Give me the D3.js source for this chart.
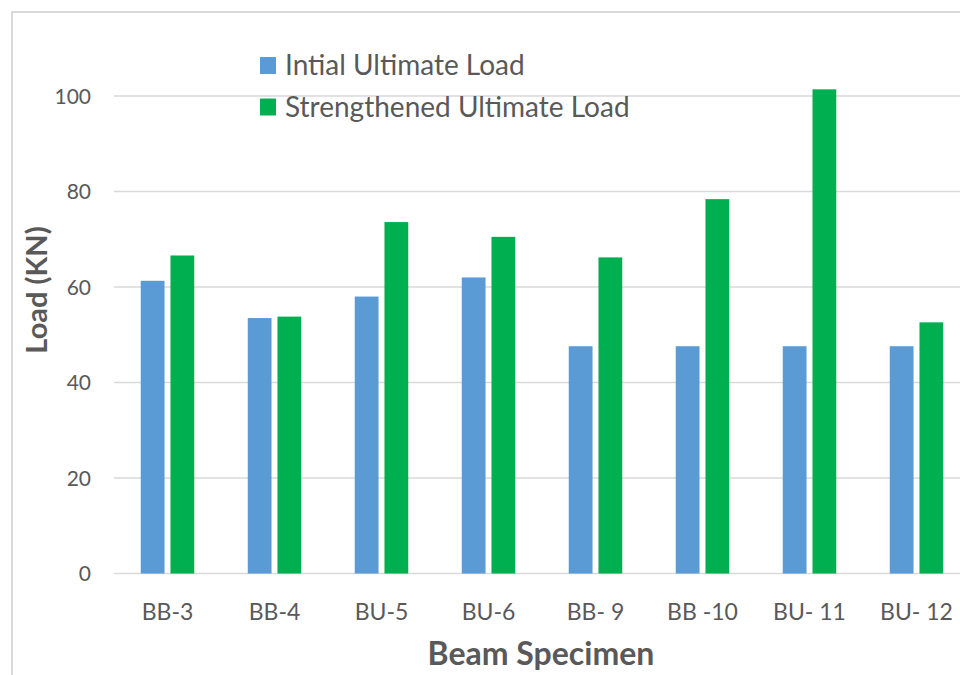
<!DOCTYPE html>
<html>
<head>
<meta charset="utf-8">
<script src="https://cdn.jsdelivr.net/npm/d3@7"></script>
<style>
  html, body { margin: 0; padding: 0; background: #fff; }
  svg { display: block; }
</style>
</head>
<body>
<svg id="chart" width="960" height="675"></svg>
<script>
// Beam specimens and their ultimate loads (kN)
const categories = ["BB-3", "BB-4", "BU-5", "BU-6", "BB- 9", "BB -10", "BU- 11", "BU- 12"];
const initialLoad = [61.3, 53.5, 58.0, 62.0, 47.6, 47.6, 47.6, 47.6];
const strengthenedLoad = [66.6, 53.8, 73.6, 70.5, 66.2, 78.4, 101.4, 52.6];
const seriesNames = ["Intial Ultimate Load", "Strengthened Ultimate Load"];
const seriesColors = ["#5B9BD5", "#00B050"];
const yTicks = [0, 20, 40, 60, 80, 100];

const svg = d3.select("#chart");
const font = "Lato, 'Open Sans', sans-serif";

// outer chart frame
svg.append("rect")
  .attr("x", 12).attr("y", 12)
  .attr("width", 1000).attr("height", 700)
  .attr("fill", "#fff")
  .attr("stroke", "#d9d9d9").attr("stroke-width", 2);

const plot = { left: 114, right: 970, top: 96, bottom: 573.5 };

const x0 = d3.scaleBand()
  .domain(categories)
  .range([plot.left, plot.right])
  .paddingInner(0.5)
  .paddingOuter(0.25);

const x1 = d3.scaleBand()
  .domain([0, 1])
  .range([0, x0.bandwidth()])
  .paddingInner(0.2);

const y = d3.scaleLinear()
  .domain([0, 100])
  .range([plot.bottom, plot.top]);

// horizontal gridlines
svg.append("g")
  .selectAll("line")
  .data(yTicks)
  .join("line")
  .attr("x1", plot.left).attr("x2", plot.right)
  .attr("y1", d => y(d)).attr("y2", d => y(d))
  .attr("stroke", "#d9d9d9").attr("stroke-width", 1.5);

// y tick labels
const yAxis = d3.axisLeft(y).tickValues(yTicks).tickSize(0).tickPadding(0);
const gy = svg.append("g")
  .attr("transform", `translate(${plot.left - 23},0)`)
  .call(yAxis);
gy.select(".domain").remove();
gy.selectAll("text")
  .attr("font-family", font).attr("font-size", 21)
  .attr("fill", "#595959").attr("dy", "0.35em");

// x tick labels
const xAxis = d3.axisBottom(x0).tickSize(0).tickPadding(0);
const gx = svg.append("g")
  .attr("transform", `translate(0,${plot.bottom + 30})`)
  .call(xAxis);
gx.select(".domain").remove();
gx.selectAll("text")
  .attr("font-family", font).attr("font-size", 23)
  .attr("fill", "#595959").attr("dy", "0.71em");

// bars
const rows = categories.map((c, i) => ({ c, vals: [initialLoad[i], strengthenedLoad[i]] }));
const groups = svg.append("g")
  .selectAll("g")
  .data(rows)
  .join("g")
  .attr("transform", d => `translate(${x0(d.c)},0)`);

groups.selectAll("rect")
  .data(d => d.vals.map((v, k) => ({ v, k })))
  .join("rect")
  .attr("x", d => x1(d.k))
  .attr("width", x1.bandwidth())
  .attr("y", d => y(d.v))
  .attr("height", d => y(0) - y(d.v))
  .attr("fill", d => seriesColors[d.k]);

// axis titles
svg.append("text")
  .attr("transform", "translate(47,290) rotate(-90)")
  .attr("text-anchor", "middle")
  .attr("font-family", font).attr("font-size", 29).attr("font-weight", "bold")
  .attr("fill", "#595959")
  .text("Load (KN)");

svg.append("text")
  .attr("x", 541).attr("y", 665)
  .attr("text-anchor", "middle")
  .attr("font-family", font).attr("font-size", 32).attr("font-weight", "bold")
  .attr("fill", "#595959")
  .text("Beam Specimen");

// legend
const legend = svg.append("g")
  .selectAll("g")
  .data(seriesNames)
  .join("g")
  .attr("transform", (d, i) => `translate(260,${57 + i * 41.5})`);

legend.append("rect")
  .attr("width", 16).attr("height", 17)
  .attr("fill", (d, i) => seriesColors[i]);

legend.append("text")
  .attr("x", 25).attr("y", 18)
  .attr("font-family", font).attr("font-size", 28)
  .attr("fill", "#595959")
  .text(d => d);
</script>
</body>
</html>
